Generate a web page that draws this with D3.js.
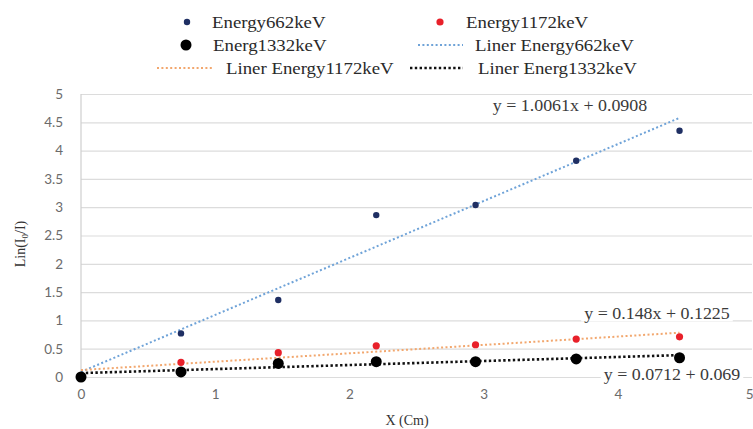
<!DOCTYPE html>
<html>
<head>
<meta charset="utf-8">
<script src="https://cdn.jsdelivr.net/npm/d3@7"></script>
<style>
  html, body { margin: 0; padding: 0; background: #fff; }
  svg { display: block; }
</style>
</head>
<body>
<svg id="chart" width="753" height="429"></svg>
<script>
// Absorber thickness (cm)
const thickness = [0, 0.745, 1.47, 2.2, 2.94, 3.69, 4.46];
// ln(I0/I) for each gamma energy
const energy662 = [0, 0.77, 1.36, 2.86, 3.04, 3.82, 4.35];
const energy1172 = [0, 0.26, 0.43, 0.55, 0.57, 0.67, 0.71];
const energy1332 = [0, 0.09, 0.24, 0.27, 0.27, 0.32, 0.34];

// Linear fits as printed beside each trend line
const fitSlopes = [1.0061, 0.148, 0.0712];
const fitIntercepts = [0.0908, 0.1225, 0.069];
const fitLabels = ["y = 1.0061x + 0.0908", "y = 0.148x + 0.1225", "y = 0.0712 + 0.069"];

const seriesNames = ["Energy662keV", "Energy1172keV", "Energ1332keV"];
const trendNames = ["Liner Energy662keV", "Liner Energy1172keV", "Liner Energ1332keV"];

const xTicks = [0, 1, 2, 3, 4, 5];
const yTicks = [0, 0.5, 1, 1.5, 2, 2.5, 3, 3.5, 4, 4.5, 5];

const svg = d3.select("#chart");
const x = d3.scaleLinear().domain([0, 5]).range([81, 752]);
const y = d3.scaleLinear().domain([0, 5]).range([377, 94]);

const pointColors = ["#1f2f63", "#e8202a", "#000000"];
const pointRadius = [3.2, 3.6, 5.5];
const trendColors = ["#6fa3d8", "#f2a76e", "#111111"];
const trendWidth = [2, 2, 2.6];
const trendDash = ["2,2.4", "2,2.4", "2.4,2.4"];

// Horizontal gridlines and y tick labels
const yAxis = d3.axisLeft(y).tickValues(yTicks).tickSize(-(752 - 81)).tickPadding(18)
  .tickFormat(d => String(d));
const gy = svg.append("g").attr("transform", `translate(81,0)`).call(yAxis);
gy.select(".domain").remove();
gy.selectAll(".tick line").attr("stroke", "#dcdcdc").attr("stroke-width", 1.2);
gy.selectAll(".tick text").attr("fill", "#6b6b6b").attr("font-family", "Lato, 'Open Sans', sans-serif")
  .attr("font-size", 13.5);

// Vertical axis line
svg.append("line").attr("x1", 81).attr("x2", 81).attr("y1", y(5)).attr("y2", y(0))
  .attr("stroke", "#cfcfcf").attr("stroke-width", 1.2);

// x tick labels; the last one sits against the right edge of the chart
const xAxis = d3.axisBottom(x).tickValues(xTicks).tickSize(0).tickPadding(12).tickFormat(d => String(d));
const gx = svg.append("g").attr("transform", `translate(0,${y(0)})`).call(xAxis);
gx.select(".domain").remove();
gx.selectAll(".tick text").attr("fill", "#6b6b6b").attr("font-family", "Lato, 'Open Sans', sans-serif")
  .attr("font-size", 13.5);
gx.selectAll(".tick text").filter(d => d === 5).attr("text-anchor", "end").attr("dx", 1);

// Axis titles
svg.append("text").attr("x", 407).attr("y", 425).attr("text-anchor", "middle")
  .attr("font-family", "'Liberation Serif', 'Times New Roman', serif").attr("font-size", 14)
  .attr("fill", "#333").text("X (Cm)");
const yt = svg.append("text").attr("transform", "translate(25,244) rotate(-90)").attr("text-anchor", "middle")
  .attr("font-family", "'Liberation Serif', 'Times New Roman', serif").attr("font-size", 14).attr("fill", "#333");
yt.append("tspan").text("Lin(I");
yt.append("tspan").attr("font-size", 9).attr("dy", 3).text("0");
yt.append("tspan").attr("dy", -3).text("/I)");

const seriesValues = [energy662, energy1172, energy1332];
const xMin = d3.min(thickness), xMax = d3.max(thickness);

// Trend lines
const line = d3.line().x(d => x(d[0])).y(d => y(d[1]));
seriesValues.forEach((vals, i) => {
  const pts = [xMin, xMax].map(t => [t, fitSlopes[i] * t + fitIntercepts[i]]);
  svg.append("path").datum(pts).attr("d", line).attr("fill", "none")
    .attr("stroke", trendColors[i]).attr("stroke-width", trendWidth[i])
    .attr("stroke-dasharray", trendDash[i]);
});

// Data points (drawn so the larger black markers sit on top)
seriesValues.forEach((vals, i) => {
  svg.append("g").selectAll("circle").data(vals).join("circle")
    .attr("cx", (d, j) => x(thickness[j])).attr("cy", d => y(d))
    .attr("r", pointRadius[i]).attr("fill", pointColors[i]);
});

// Fit equation labels on white boxes
const eqPos = [[570, 105], [657, 313], [672, 374]];
fitLabels.forEach((txt, i) => {
  const g = svg.append("g").attr("transform", `translate(${eqPos[i][0]},${eqPos[i][1]})`);
  const t = g.append("text").attr("text-anchor", "middle").attr("dy", "0.35em")
    .attr("font-family", "'Liberation Serif', 'Times New Roman', serif").attr("font-size", 16)
    .attr("fill", "#3a3a3a").attr("transform", "scale(1.12,1)").text(txt);
  const bb = t.node().getBBox();
  g.insert("rect", "text").attr("x", bb.x * 1.12 - 3).attr("y", bb.y + 1).attr("width", bb.width * 1.12 + 6)
    .attr("height", bb.height - 2).attr("fill", "#fff");
});

// Legend
const legendFont = "'Liberation Serif', 'Times New Roman', serif";
const legendItems = [
  { kind: "dot", s: 0, cx: 187, cy: 22, tx: 212 },
  { kind: "dot", s: 1, cx: 440, cy: 22, tx: 466 },
  { kind: "dot", s: 2, cx: 186, cy: 45, tx: 213 },
  { kind: "line", s: 0, x1: 418, x2: 463, cy: 45, tx: 475 },
  { kind: "line", s: 1, x1: 157, x2: 212, cy: 68, tx: 226 },
  { kind: "line", s: 2, x1: 410, x2: 463, cy: 68, tx: 478 }
];
const lg = svg.append("g");
legendItems.forEach(it => {
  if (it.kind === "dot") {
    lg.append("circle").attr("cx", it.cx).attr("cy", it.cy).attr("r", pointRadius[it.s])
      .attr("fill", pointColors[it.s]);
  } else {
    lg.append("line").attr("x1", it.x1).attr("x2", it.x2).attr("y1", it.cy).attr("y2", it.cy)
      .attr("stroke", trendColors[it.s]).attr("stroke-width", trendWidth[it.s])
      .attr("stroke-dasharray", trendDash[it.s]);
  }
  lg.append("text").attr("transform", `translate(${it.tx},${it.cy}) scale(1.14,1)`)
    .attr("dy", "0.35em").attr("font-family", legendFont).attr("font-size", 16.5).attr("fill", "#2a2a2a")
    .text(it.kind === "dot" ? seriesNames[it.s] : trendNames[it.s]);
});
</script>
</body>
</html>
